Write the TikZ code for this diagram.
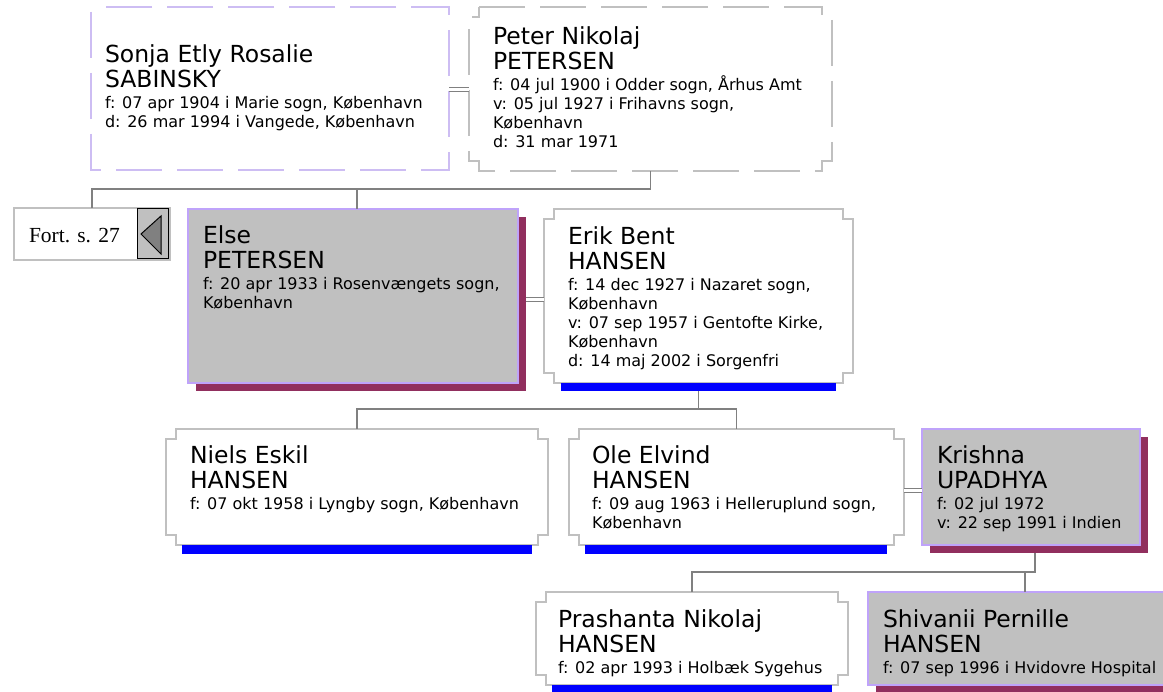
\documentclass[tikz,border=0pt]{standalone}
\usepackage{fontspec}
\setmainfont{DejaVu Sans}
\newfontfamily\fortfont{Liberation Serif}
\usetikzlibrary{calc,fit}
\definecolor{lineg}{HTML}{808080}
\definecolor{boxg}{HTML}{C0C0C0}
\definecolor{lav}{HTML}{BFA3FA}
\definecolor{lavl}{HTML}{CDBDF3}
\definecolor{shad}{HTML}{912F5E}
\definecolor{barblue}{HTML}{0000FF}
\newcommand\dl[1]{\hbox{#1}}
\newcommand\person[4]{\vtop{\fontsize{23.5}{25}\selectfont\hbox{#1}\hbox{#2}\fontsize{16}{21}\selectfont\hbox{#3}\baselineskip=19pt\relax #4}}
\newcommand\notchbox[2]{\draw[#2] ([xshift=10pt]#1.north west) -- ([xshift=-10pt]#1.north east) -- ++(0,10) -- ++(10,0) -- ([yshift=10pt]#1.south east) -- ++(-10,0) -- ++(0,10) -- ([xshift=10pt]#1.south west) -- ++(0,-10) -- ++(-10,0) -- ([yshift=-10pt]#1.north west) -- ++(10,0) -- cycle;}
\begin{document}
\begin{tikzpicture}[x=1pt,y=-1pt,
 slot/.style={inner sep=0pt,outer sep=0pt,anchor=north west},
 conn/.style={draw=lineg,line width=1.5pt},
 couple/.style={draw=lineg,line width=1pt,double=white,double distance=3pt},
 plain/.style={draw=boxg,line width=2pt,fill=white},
 feat/.style={slot,draw=lav,line width=2pt,fill=boxg},
 shadowbox/.style={slot,fill=shad},
 bar/.style={slot,fill=barblue},
 txt/.style={inner sep=0pt,outer sep=0pt,anchor=base west,text=black}]
\useasboundingbox[fill=white] (0,0) rectangle (1163,692);
\clip (0,0) rectangle (1163,692);

% generation 1
\node[slot,minimum width=358pt,minimum height=163pt] (sonja) at (91,7) {};
\draw[draw=lavl,line width=1.2pt,dash pattern=on 46pt off 15pt,dash phase=56pt] (sonja.north west) rectangle (sonja.south east);
\node[slot,minimum width=363pt,minimum height=164pt] (peter) at (469,7) {};
\notchbox{peter}{draw=boxg,line width=1.2pt,dash pattern=on 46pt off 15pt}

% continuation box
\node[slot,draw=boxg,line width=2pt,fill=white,minimum width=156pt,minimum height=52pt] (fort) at (14,208) {};
\node[txt,font=\fortfont\fontsize{21.5}{24}\selectfont] (fortT) at (29,243) {Fort. s. 27};
\node[slot,draw=black,line width=1pt,fill=boxg,minimum width=31pt,minimum height=50pt] (btn) at (137,209) {};
\draw[fill=lineg,draw=black,line width=1pt] ([xshift=4pt]btn.west) -- ([xshift=-7pt,yshift=18pt]btn.east) -- ([xshift=-7pt,yshift=-20pt]btn.east) -- cycle;

% generation 2
\node[shadowbox,minimum width=330.5pt,minimum height=174pt] (elseS) at (195.5,217) {};
\node[feat,minimum width=330.5pt,minimum height=174pt] (elsep) at (187.5,209) {};
\node[fit=(elsep)(elseS),inner sep=0pt,outer sep=0pt] (elseF) {};
\node[slot,minimum width=309pt,minimum height=174pt] (erik) at (544,209) {};
\notchbox{erik}{plain}
\node[bar,minimum width=275pt,minimum height=8pt] (erikbar) at (561,383) {};

% generation 3
\node[slot,minimum width=382pt,minimum height=116pt] (niels) at (166,429) {};
\notchbox{niels}{plain}
\node[bar,minimum width=350pt,minimum height=9pt] (nielsbar) at (182,545) {};
\node[slot,minimum width=335pt,minimum height=116pt] (ole) at (569,429) {};
\notchbox{ole}{plain}
\node[bar,minimum width=302pt,minimum height=9pt] (olebar) at (585,545) {};
\node[shadowbox,minimum width=218pt,minimum height=116pt] (krishnaS) at (930,437) {};
\node[feat,minimum width=218pt,minimum height=116pt] (krishna) at (922,429) {};
\node[fit=(krishna)(krishnaS),inner sep=0pt,outer sep=0pt] (krishnaF) {};

% generation 4
\node[slot,minimum width=312pt,minimum height=93pt] (prashanta) at (536,592) {};
\notchbox{prashanta}{plain}
\node[bar,minimum width=280pt,minimum height=8pt] (prashantabar) at (552,685) {};
\node[shadowbox,minimum width=306pt,minimum height=93pt] (shivaniiS) at (876,600) {};
\node[feat,minimum width=306pt,minimum height=93pt] (shivanii) at (868,592) {};
\node[fit=(shivanii)(shivaniiS),inner sep=0pt,outer sep=0pt] (shivaniiF) {};

% connectors
\coordinate (j1) at (0,189);
\coordinate (j2) at (0,409);
\coordinate (j3) at (0,572);
\draw[conn] (peter.south) -- (peter.south |- j1) -| (fort.north);
\draw[conn] (elseF.north |- j1) -- (elseF.north);
\draw[conn] (erikbar.south) -- (erikbar.south |- j2) -| (ole.north);
\draw[conn] (niels.north) |- (erikbar.south |- j2);
\draw[conn] (krishnaF.south) -- (krishnaF.south |- j3) -| (prashanta.north);
\draw[conn] (shivaniiF.north) -- (shivaniiF.north |- j3);

% couples
\coordinate (c1) at ([yshift=-1pt]sonja.east);
\draw[couple] (c1) -- (c1 -| peter.west);
\coordinate (c2) at ([yshift=-3.5pt]elsep.east -| elseS.east);
\draw[couple] (c2) -- (c2 -| erik.west);
\coordinate (c3) at ([yshift=-3.5pt]ole.east);
\draw[couple] (c3) -- (c3 -| krishna.west);

% texts
\node[txt] (sonjaT) at (105,63) {\person{Sonja Etly Rosalie}{SABINSKY}{f: 07 apr 1904 i Marie sogn, København}{\dl{d: 26 mar 1994 i Vangede, København}}};
\node[txt] (peterT) at (493,45) {\person{Peter Nikolaj}{PETERSEN}{f: 04 jul 1900 i Odder sogn, Århus Amt}{\dl{v: 05 jul 1927 i Frihavns sogn,}\dl{København}\dl{d: 31 mar 1971}}};
\node[txt] (elseT) at (203,244) {\person{Else}{PETERSEN}{f: 20 apr 1933 i Rosenvængets sogn,}{\dl{København}}};
\node[txt] (erikT) at (568,245) {\person{Erik Bent}{HANSEN}{f: 14 dec 1927 i Nazaret sogn,}{\dl{København}\dl{v: 07 sep 1957 i Gentofte Kirke,}\dl{København}\dl{d: 14 maj 2002 i Sorgenfri}}};
\node[txt] (nielsT) at (190,464) {\person{Niels Eskil}{HANSEN}{f: 07 okt 1958 i Lyngby sogn, København}{}};
\node[txt] (oleT) at (592,464) {\person{Ole Elvind}{HANSEN}{f: 09 aug 1963 i Helleruplund sogn,}{\dl{København}}};
\node[txt] (krishnaT) at (937,464) {\person{Krishna}{UPADHYA}{f: 02 jul 1972}{\dl{v: 22 sep 1991 i Indien}}};
\node[txt] (prashantaT) at (558,627) {\person{Prashanta Nikolaj}{HANSEN}{f: 02 apr 1993 i Holbæk Sygehus}{}};
\node[txt] (shivaniiT) at (883,627) {\person{Shivanii Pernille}{HANSEN}{f: 07 sep 1996 i Hvidovre Hospital}{}};
\end{tikzpicture}
\end{document}
